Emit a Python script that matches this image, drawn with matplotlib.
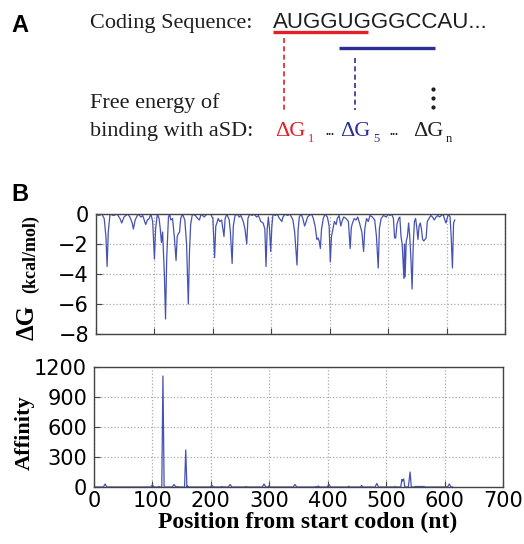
import matplotlib.pyplot as plt

# ---- data ----
# panel B top: free energy of binding with aSD along the coding sequence
dg_pos = [0, 5, 10, 14, 17, 19, 21, 24, 30, 36, 41, 44, 48, 54, 58, 62, 64, 67, 72, 77,
          80, 85, 88, 91, 94, 97, 100, 102, 105, 108, 110, 112, 114, 117, 119, 121, 124, 126, 128, 131,
          134, 137, 139, 141, 143, 145, 148, 152, 155, 158, 160, 162, 165, 170, 174, 177, 180, 185, 190, 196,
          200, 203, 205, 207, 209, 212, 215, 219, 221, 224, 228, 230, 233, 235, 238, 242, 245, 248, 252, 255,
          258, 260, 263, 267, 270, 275, 278, 282, 286, 289, 291, 293, 295, 297, 299, 301, 303, 307, 310, 314,
          318, 320, 324, 328, 332, 337, 340, 344, 346, 348, 351, 354, 357, 359, 362, 365, 369, 372, 375, 378,
          380, 382, 384, 386, 389, 392, 396, 399, 401, 403, 405, 408, 411, 413, 416, 419, 421, 424, 428, 432,
          435, 437, 439, 442, 445, 448, 451, 455, 458, 460, 463, 466, 469, 473, 477, 480, 483, 485, 488, 492,
          497, 500, 503, 506, 509, 511, 513, 515, 518, 520, 522, 524, 527, 528, 529, 531, 533, 535, 537, 539,
          541, 543, 545, 547, 549, 551, 553, 555, 557, 559, 561, 563, 565, 567, 570, 573, 576, 579, 582, 585,
          588, 591, 594, 597, 599, 601, 603, 606, 608, 610, 611, 612, 614]
dg = [0, -0.1, 0, -0.3, -1.5, -3.5, -1.2, 0, -0.1, 0, -0.3, -0.6, -0.2, 0, -0.2, -0.6, -1.0, -0.4, 0, -0.2,
      -0.1, -0.7, -0.4, -0.3, 0, -0.5, -3.0, -1.0, 0, -0.3, -1.0, -1.9, -1.2, -4.0, -7.0, -3.0, -0.2, 0, -0.4, -0.3,
      -1.5, -3.1, -1.5, -1.3, -1.2, -0.3, 0, -0.4, -2.0, -6.0, -2.5, -0.7, 0, -0.1, -0.3, -0.4, 0, -0.2, 0, 0,
      -0.3, -2.9, -0.8, -0.6, -0.3, -0.5, -0.4, -1.5, -0.3, 0, -0.4, -1.2, -3.3, -0.8, -0.1, 0, -0.2, -0.1, -0.5, -1.0,
      -2.0, -0.3, 0, -0.1, 0, -0.2, -0.1, -0.5, -0.6, -1.0, -3.5, -1.0, -0.2, -1.0, -2.5, -0.8, 0, -0.1, 0, -0.3,
      -0.5, -0.2, 0, -0.1, 0, -0.4, -1.2, -3.4, -1.0, -0.2, 0, -0.3, -0.8, -0.6, -0.2, -0.1, 0, -0.3, -0.8, -1.7,
      -1.6, -1.8, -2.3, -1.0, -0.3, 0, -0.2, -0.8, -3.2, -1.5, -1.1, -0.5, -0.7, -0.3, -0.1, -0.8, -0.5, -0.2, -0.3, -0.5,
      -2.3, -0.9, -0.6, -0.3, -0.4, -0.2, -0.6, -1.2, -2.5, -1.0, -0.3, -0.5, -0.1, -0.2, -0.4, -1.5, -3.6, -1.0, -0.3, -0.1,
      -0.2, 0, -0.1, 0, -0.3, -1.6, -1.6, -0.7, -0.3, -0.2, -1.5, -2.0, -4.3, -2.0, -4.2, -1.8, -1.5, -0.6, -1.5, -3.0,
      -5.0, -2.0, -0.5, -0.3, -0.9, -1.7, -0.8, -0.6, -1.0, -1.7, -1.8, -1.7, -1.6, -0.5, -0.3, -0.1, -0.2, -0.4, -0.2, -0.1,
      -0.2, -0.1, 0, -0.4, -0.6, -0.3, 0, -0.2, -1.6, -3.6, -2.0, -0.6, -0.4]

# panel B bottom: affinity
aff_pos = [0, 16, 19, 22, 97, 100, 103, 109, 111, 113, 116, 118, 120, 134, 137, 140, 143, 145, 155, 157,
           159, 160, 162, 199, 202, 205, 217, 219, 221, 230, 233, 236, 258, 260, 262, 288, 291, 294, 297, 299,
           301, 341, 344, 347, 378, 380, 382, 384, 386, 399, 402, 405, 434, 436, 438, 456, 458, 460, 481, 484,
           487, 513, 515, 517, 525, 527, 528, 530, 532, 538, 541, 543, 548, 550, 565, 567, 605, 608, 611, 614]
aff = [0, 0, 30, 0, 0, 20, 0, 0, 5, 0, 0, 1110, 0, 0, 25, 0, 5, 0, 0, 370,
       0, 10, 0, 0, 15, 0, 0, 5, 0, 0, 25, 0, 0, 5, 0, 0, 30, 0, 0, 10,
       0, 0, 25, 0, 0, 5, 0, 10, 0, 0, 25, 0, 0, 8, 0, 0, 15, 0, 0, 35,
       0, 0, 5, 0, 0, 75, 60, 80, 0, 0, 150, 0, 0, 5, 5, 0, 0, 30, 0, 0]

dg_ticks = [0, -2, -4, -6, -8]
aff_ticks = [0, 300, 600, 900, 1200]
x_ticks = [0, 100, 200, 300, 400, 500, 600, 700]

W, H = 524, 544
LINE = '#4552b3'
RED = '#e3202a'
NAVY = '#2b2f93'
INK = '#1e1e1e'
SERIF = 'Liberation Serif'
SANS = 'Liberation Sans'

fig = plt.figure(figsize=(W / 100, H / 100), dpi=100)

# overlay in pixel coordinates for the schematic of panel A
ov = fig.add_axes([0, 0, 1, 1])
ov.set_xlim(0, W)
ov.set_ylim(H, 0)
ov.axis('off')

ov.text(11, 32, 'A', fontsize=17, fontweight='bold', family=SANS, color='black')
ov.text(11, 201, 'B', fontsize=17, fontweight='bold', family=SANS, color='black')
ov.text(90, 28, 'Coding Sequence:', fontsize=16, family=SERIF, color=INK)
ov.text(273, 28, 'AUGGUGGGCCAU...', fontsize=16, family=SANS, color=INK)
ov.plot([273, 368], [32, 32], color=RED, lw=2.4, solid_capstyle='butt')
ov.plot([339, 435], [48, 48], color=NAVY, lw=2.4, solid_capstyle='butt')
ov.plot([284, 284], [38, 110], color=RED, lw=1.2, ls=(0, (3, 2)))
ov.plot([355, 355], [58, 110], color=NAVY, lw=1.2, ls=(0, (3, 2)))
ov.plot([433, 433, 433], [89, 98, 107], ls='none', marker='o', ms=2.0, color=INK)

ov.text(90, 108, 'Free energy of', fontsize=16, family=SERIF, color=INK)
ov.text(90, 136, 'binding with aSD:', fontsize=16, family=SERIF, color=INK)
for x0, sub, col in [(275, '1', RED), (340, '5', NAVY), (413, 'n', INK)]:
    ov.text(x0, 136, '\u0394G', fontsize=16, family=SERIF, color=col)
    ov.text(x0 + 33, 142, sub, fontsize=9, family=SERIF, color=col)
ov.text(325, 135, '...', fontsize=9, fontweight='bold', family=SERIF, color=INK)
ov.text(390, 135, '...', fontsize=9, fontweight='bold', family=SERIF, color=INK)


def style(ax):
    ax.set_xlim(0, 700)
    ax.set_xticks(x_ticks)
    ax.grid(True, color='#aaaaaa', ls=':', lw=0.9)
    ax.tick_params(direction='in', length=4, labelsize=15, color='#444444')
    ax.tick_params(axis='y', pad=5)
    ax.tick_params(axis='x', pad=3)
    for s in ax.spines.values():
        s.set_color('#444444')
        s.set_linewidth(1.0)


ax1 = fig.add_axes([96 / W, 1 - 334 / H, 409 / W, 120 / H])
ax1.plot(dg_pos, dg, color=LINE, lw=0.9)
style(ax1)
ax1.set_ylim(-8, 0)
ax1.set_yticks(dg_ticks)
ax1.set_xticklabels([])

ax2 = fig.add_axes([94 / W, 1 - 487 / H, 409 / W, 120 / H])
ax2.plot(aff_pos, aff, color=LINE, lw=0.9)
style(ax2)
ax2.set_ylim(0, 1200)
ax2.set_yticks(aff_ticks)

# axis titles
fig.text(27 / W, 1 - 323 / H, '\u0394G', rotation=90, ha='center', va='center',
         fontsize=18, fontweight='bold', family=SERIF)
fig.text(31 / W, 1 - 254 / H, '(kcal/mol)', rotation=90, ha='center', va='center',
         fontsize=13, fontweight='bold', family=SERIF)
fig.text(25 / W, 1 - 433 / H, 'Affinity', rotation=90, ha='center', va='center',
         fontsize=16, fontweight='bold', family=SERIF)
fig.text(308 / W, 1 - 522 / H, 'Position from start codon (nt)', ha='center', va='center',
         fontsize=17, fontweight='bold', family=SERIF)

fig.savefig('out.png', dpi=100)
